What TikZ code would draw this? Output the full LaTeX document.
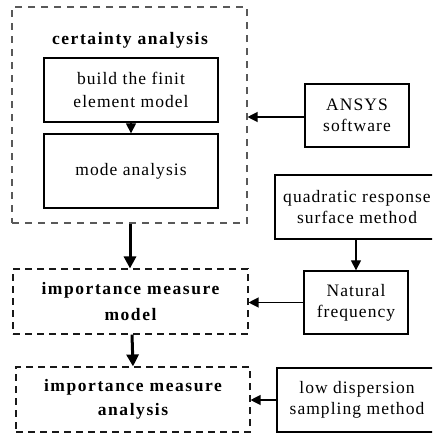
\documentclass[tikz,border=0pt]{standalone}
\usepackage{fontspec}
\setmainfont{Liberation Serif}[LetterSpace=6, BoldFeatures={LetterSpace=9}]
\usetikzlibrary{arrows.meta}
\tikzset{
  solidbox/.style={draw=black, line width=1.3pt, rectangle, align=center, inner sep=0pt},
  dashbox/.style={draw=black!65, line width=1.1pt, dash pattern=on 7pt off 6pt, rectangle, inner sep=0pt},
  dashbox2/.style={draw=black!90, line width=1.1pt, dash pattern=on 7pt off 5pt, rectangle, align=center, inner sep=0pt},
  thin arrow/.style={draw=black, line width=1.2pt, -{Triangle[length=10pt,width=10pt]}},
  thick arrow/.style={draw=black, line width=3pt, -{Triangle[length=12pt,width=12pt]}},
  txt/.style={font=\fontsize{17.5}{21}\selectfont},
  btxt/.style={font=\fontsize{17.5}{24}\selectfont\bfseries},
}
\begin{document}
\begin{tikzpicture}[x=1pt,y=-1pt]
\useasboundingbox (0,0) rectangle (432,434);
\clip (0,0) rectangle (432,434);
% left column
\node[dashbox, minimum width=235pt, minimum height=216pt] (ca) at (129.5,115) {};
\node[btxt] (catitle) at (130,40) {certainty analysis};
\node[solidbox, txt, font=\fontsize{17.5}{23}\selectfont, minimum width=174pt, minimum height=64pt] (build) at (131,90) {build the finit\\element model};
\node[solidbox, txt, minimum width=174pt, minimum height=74pt] (mode) at (131,171) {mode analysis};
\node[dashbox2, btxt, font=\fontsize{17.5}{26}\selectfont\bfseries, minimum width=235pt, minimum height=65pt] (imm) at (130.5,301.5) {importance measure\\model};
\node[dashbox2, btxt, minimum width=234pt, minimum height=65pt] (ima) at (133,399.5) {importance measure\\analysis};
% right column
\node[solidbox, txt, minimum width=104pt, minimum height=63pt] (ansys) at (357,115.5) {ANSYS\\software};
\node[solidbox, txt, minimum width=164pt, minimum height=64pt] (qrs) at (357,207) {quadratic response\\surface method};
\node[solidbox, txt, minimum width=104pt, minimum height=63pt] (nat) at (356,302.5) {Natural\\frequency};
\node[solidbox, txt, minimum width=160pt, minimum height=64pt] (lds) at (357,400) {low dispersion\\sampling method};
% connectors
\draw[thin arrow] (build.south) -- (mode.north);
\draw[thin arrow] (ansys.west |- 0,117) -- (ca.east |- 0,117);
\draw[thin arrow] (qrs.south -| nat.north) -- (nat.north);
\draw[thin arrow] (nat.west) -- (imm.east |- nat.west);
\draw[thin arrow] (lds.west) -- (ima.east |- lds.west);
\draw[thick arrow] (ca.south -| 130,0) -- (imm.north -| 130,0);
\draw[thick arrow] (imm.south -| 132,0) -- (ima.north -| 133,0);
\end{tikzpicture}
\end{document}
